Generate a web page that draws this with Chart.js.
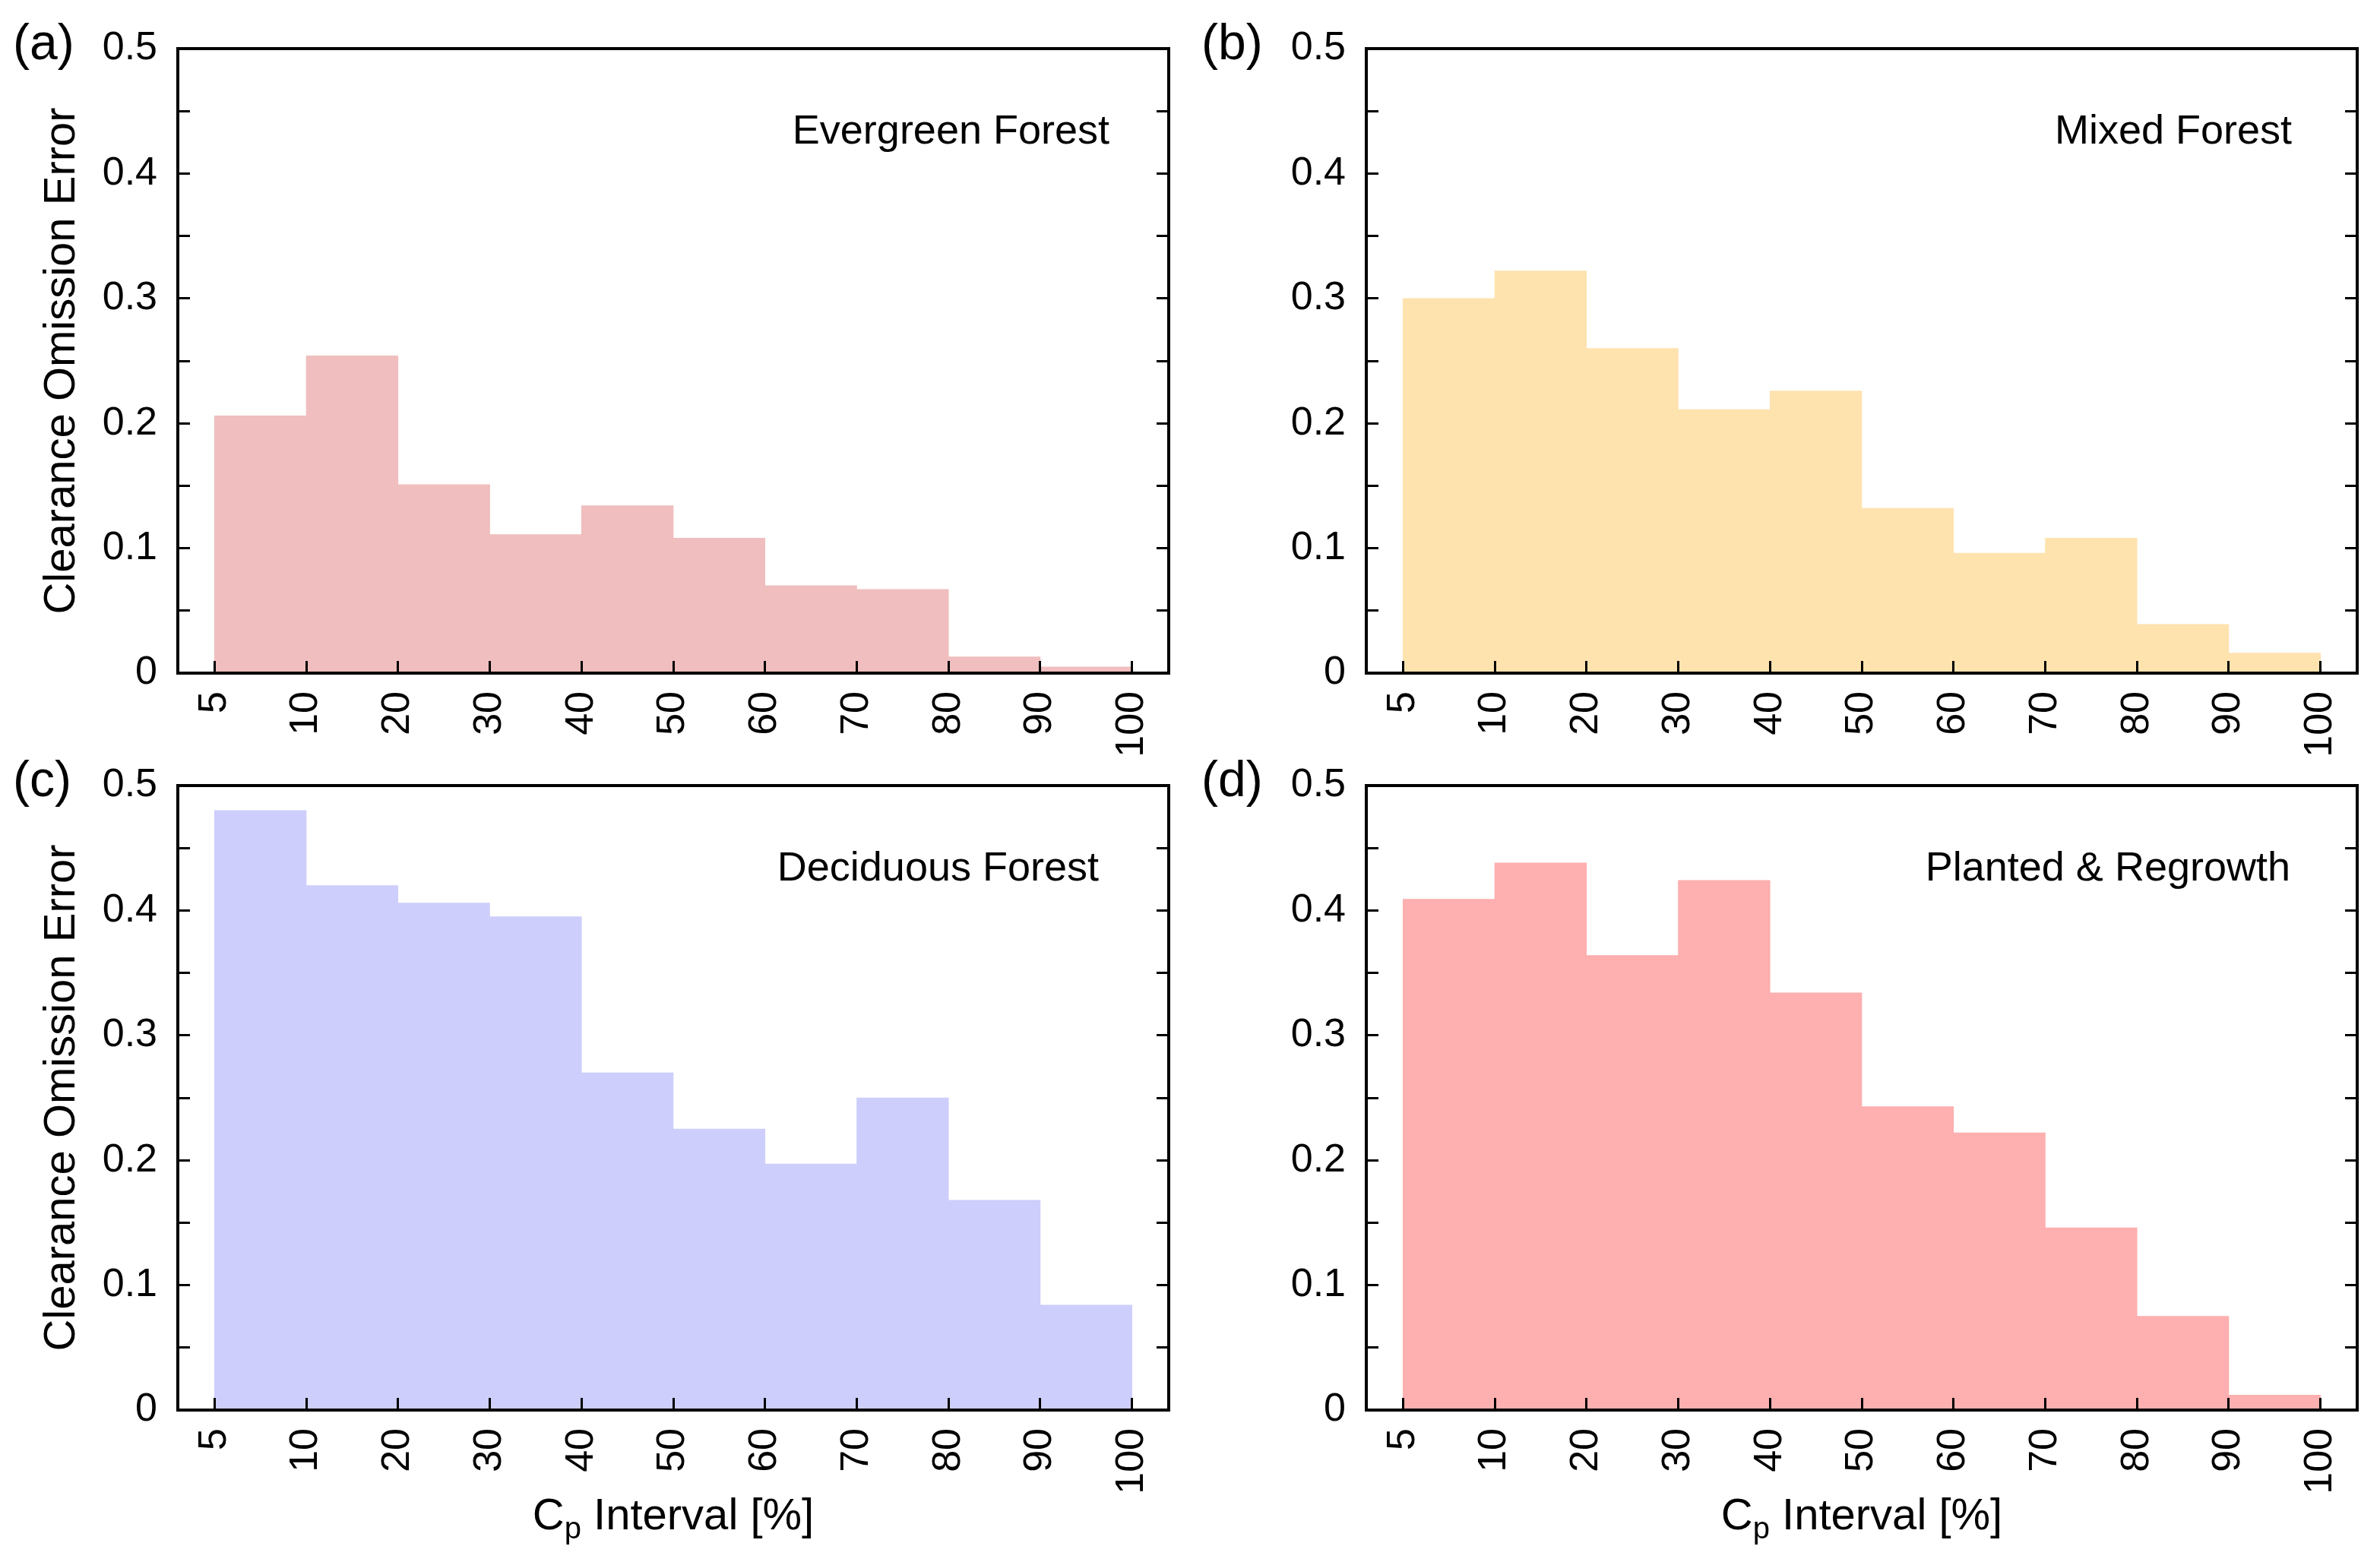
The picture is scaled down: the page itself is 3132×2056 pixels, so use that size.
<!DOCTYPE html>
<html lang="en">
  <head>
    <meta charset="UTF-8" />
    <meta name="viewport" content="width=device-width, initial-scale=1.0" />
    <title>Clearance Omission Error by Cp Interval</title>
    <script src="https://cdn.jsdelivr.net/npm/chart.js"></script>
    <style>
      body {
        margin: 0;
        background: #ffffff;
      }
      .page {
        position: relative;
        width: 3132px;
        height: 2056px;
      }
      canvas {
        position: absolute;
      }
    </style>
  </head>
  <body>
    <div class="page">
      <canvas id="chartA" width="1566" height="1010" style="left: 0; top: 0"></canvas>
      <canvas id="chartB" width="1566" height="1010" style="left: 1564px; top: 0"></canvas>
      <canvas id="chartC" width="1566" height="1086" style="left: 0; top: 970px"></canvas>
      <canvas id="chartD" width="1566" height="1086" style="left: 1564px; top: 970px"></canvas>
    </div>

    <script>
      // bin edges of the Cp interval axis
      const intervalEdges = ["5", "10", "20", "30", "40", "50", "60", "70", "80", "90", "100"];

      // y ticks (minor ticks carry no label)
      const yTickValues = [0, 0.05, 0.1, 0.15, 0.2, 0.25, 0.3, 0.35, 0.4, 0.45, 0.5];
      const yTickLabels = ["0", "", "0.1", "", "0.2", "", "0.3", "", "0.4", "", "0.5"];

      // clearance omission error per bin
      const evergreenError = [0.206, 0.254, 0.151, 0.111, 0.134, 0.108, 0.070, 0.067, 0.013, 0.005];
      const mixedError = [0.300, 0.322, 0.260, 0.211, 0.226, 0.132, 0.096, 0.108, 0.039, 0.016];
      const deciduousError = [0.480, 0.420, 0.406, 0.395, 0.270, 0.225, 0.197, 0.250, 0.168, 0.084];
      const plantedError = [0.409, 0.438, 0.364, 0.424, 0.334, 0.243, 0.222, 0.146, 0.075, 0.012];

      const FONT = "'Liberation Sans', Arial, sans-serif";

      // fixed axis box sizes so every panel gets the same plot area
      function fixBox(size, horizontal) {
        return (scale) => {
          if (horizontal) scale.height = size;
          else scale.width = size;
          scale.paddingTop = 0;
          scale.paddingBottom = 0;
          scale.paddingLeft = 0;
          scale.paddingRight = 0;
        };
      }

      function panelText(letter, name, nameInset, xTitle) {
        return {
          id: "panelText",
          afterDraw(chart) {
            const { ctx, chartArea } = chart;
            ctx.save();
            ctx.fillStyle = "#000";
            ctx.textAlign = "left";
            ctx.textBaseline = "alphabetic";
            ctx.font = "66px " + FONT;
            ctx.fillText(letter, chartArea.left - 217, chartArea.top + 14);

            ctx.font = "54px " + FONT;
            ctx.textAlign = "right";
            ctx.textBaseline = "middle";
            ctx.fillText(name, chartArea.right - nameInset, chartArea.top + 110);

            if (xTitle) {
              // "Cp Interval [%]" with a subscript p
              ctx.textAlign = "left";
              ctx.textBaseline = "alphabetic";
              const main = "58px " + FONT;
              const sub = "40px " + FONT;
              ctx.font = main;
              const w1 = ctx.measureText("C").width;
              const w3 = ctx.measureText(" Interval [%]").width;
              ctx.font = sub;
              const w2 = ctx.measureText("p").width;
              const base = chartArea.bottom + 157;
              let x = (chartArea.left + chartArea.right) / 2 - (w1 + w2 + w3) / 2;
              ctx.font = main;
              ctx.fillText("C", x, base);
              x += w1;
              ctx.font = sub;
              ctx.fillText("p", x, base + 12);
              x += w2;
              ctx.font = main;
              ctx.fillText(" Interval [%]", x, base);
            }
            ctx.restore();
          },
        };
      }

      function makeChart(id, values, color, letter, name, nameInset, showYTitle, showXTitle) {
        const axisHeight = showXTitle ? 200 : 124;
        const ctx = document.getElementById(id).getContext("2d");
        new Chart(ctx, {
          type: "bar",
          data: {
            datasets: [
              {
                data: values.map((v, i) => ({ x: i + 0.5, y: v })),
                backgroundColor: color,
                borderWidth: 0,
                barPercentage: 1,
                categoryPercentage: 1,
              },
            ],
          },
          options: {
            responsive: false,
            animation: false,
            layout: { padding: { top: 64, right: 28, left: 0, bottom: 0 } },
            plugins: {
              legend: { display: false },
              tooltip: { enabled: false },
            },
            scales: {
              x: {
                type: "linear",
                position: "bottom",
                min: -0.4,
                max: 10.4,
                offset: false,
                afterBuildTicks: (scale) => {
                  scale.ticks = intervalEdges.map((_, i) => ({ value: i }));
                },
                afterFit: fixBox(axisHeight, true),
                ticks: {
                  autoSkip: false,
                  minRotation: 90,
                  maxRotation: 90,
                  padding: 40,
                  color: "#000",
                  font: { family: FONT, size: 52 },
                  callback: (value, index) => intervalEdges[index],
                },
                grid: {
                  offset: false,
                  drawOnChartArea: false,
                  tickLength: -16,
                  tickWidth: 3,
                  color: "#000",
                  z: 1,
                },
                border: { color: "#000", width: 4, z: 1 },
              },
              x2: {
                type: "linear",
                position: "top",
                min: -0.4,
                max: 10.4,
                afterFit: fixBox(0, true),
                ticks: { display: false },
                grid: { display: false },
                border: { color: "#000", width: 4, z: 1 },
              },
              y: {
                position: "left",
                min: 0,
                max: 0.5,
                afterBuildTicks: (scale) => {
                  scale.ticks = yTickValues.map((v) => ({ value: v }));
                },
                afterFit: fixBox(234, false),
                ticks: {
                  autoSkip: false,
                  padding: 43,
                  color: "#000",
                  font: { family: FONT, size: 52 },
                  callback: (value, index) => yTickLabels[index],
                },
                grid: {
                  drawOnChartArea: false,
                  tickLength: -16,
                  tickWidth: 3,
                  color: "#000",
                  z: 1,
                },
                border: { color: "#000", width: 4, z: 1 },
                title: {
                  display: showYTitle,
                  text: "Clearance Omission Error",
                  color: "#000",
                  font: { family: FONT, size: 58 },
                  padding: { top: 47, bottom: 0 },
                },
              },
              y2: {
                position: "right",
                min: 0,
                max: 0.5,
                afterBuildTicks: (scale) => {
                  scale.ticks = yTickValues.map((v) => ({ value: v }));
                },
                afterFit: fixBox(0, false),
                ticks: { display: false },
                grid: {
                  drawOnChartArea: false,
                  tickLength: -16,
                  tickWidth: 3,
                  color: "#000",
                  z: 1,
                },
                border: { color: "#000", width: 4, z: 1 },
              },
            },
          },
          plugins: [panelText(letter, name, nameInset, showXTitle)],
        });
      }

      makeChart("chartA", evergreenError, "#F0BEBE", "(a)", "Evergreen Forest", 78, true, false);
      makeChart("chartB", mixedError, "#FEE3AF", "(b)", "Mixed Forest", 86, false, false);
      makeChart("chartC", deciduousError, "#CECEFC", "(c)", "Deciduous Forest", 92, true, true);
      makeChart("chartD", plantedError, "#FEAFAF", "(d)", "Planted & Regrowth", 88, false, true);
    </script>
  </body>
</html>
